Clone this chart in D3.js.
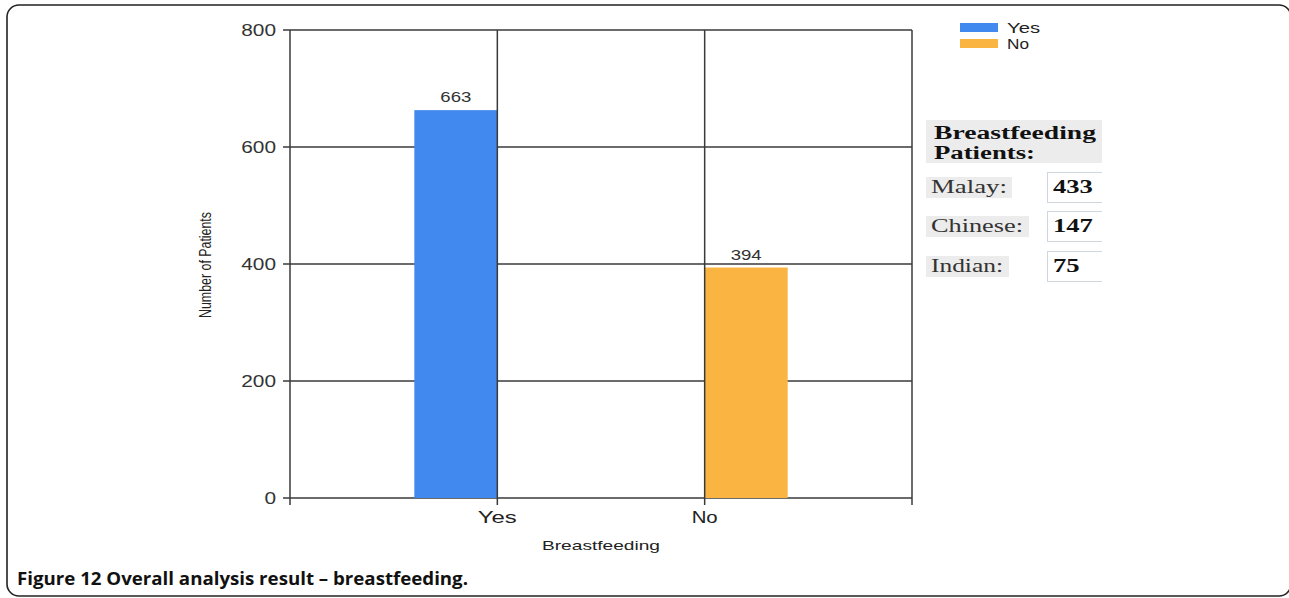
<!DOCTYPE html>
<html>
<head>
<meta charset="utf-8">
<script src="https://cdn.jsdelivr.net/npm/d3@7"></script>
<style>
  body { margin: 0; background: #fff; }
  svg text { font-family: "Liberation Sans", Arial, sans-serif; }
</style>
</head>
<body>
<svg id="fig" width="1289" height="598"></svg>
<script>
// data
var categories = ["Yes", "No"];
var patientCounts = [663, 394];
var seriesNames = ["Yes", "No"];
var seriesColors = ["#4189ee", "#f9b441"];
var yTicks = [0, 200, 400, 600, 800];
var races = ["Malay:", "Chinese:", "Indian:"];
var raceCounts = [433, 147, 75];

var svg = d3.select("#fig");

// outer rounded frame (right side runs just off the page)
svg.append("rect")
  .attr("x", 7).attr("y", 5)
  .attr("width", 1284).attr("height", 591)
  .attr("rx", 12)
  .attr("fill", "none").attr("stroke", "#222").attr("stroke-width", 1.6);

var plot = {left: 290, right: 912, top: 30, bottom: 498};

var x0 = d3.scalePoint().domain(categories).range([plot.left, plot.right]).padding(1);
var x1 = d3.scaleBand().domain(seriesNames).range([-83, 83]);
var y = d3.scaleLinear().domain([0, 800]).range([plot.bottom, plot.top]);

// stretched text helper (the original figure is wider than natural glyphs)
function label(g, txt, x, yy, len, size, anchor) {
  return g.append("text")
    .attr("x", x).attr("y", yy)
    .attr("text-anchor", anchor || "start")
    .attr("font-size", size)
    .attr("textLength", len)
    .attr("lengthAdjust", "spacingAndGlyphs")
    .text(txt);
}

var lineCol = "#3a3a3a";

// horizontal grid
svg.append("g").selectAll("line")
  .data(yTicks)
  .enter().append("line")
  .attr("x1", plot.left - 7).attr("x2", plot.right)
  .attr("y1", function(d) { return y(d); })
  .attr("y2", function(d) { return y(d); })
  .attr("stroke", lineCol).attr("stroke-width", 1.5);

// bars: each category only carries its own series
svg.append("g").selectAll("rect")
  .data(categories)
  .enter().append("rect")
  .attr("x", function(d, i) { return x0(d) + x1(seriesNames[i]); })
  .attr("y", function(d, i) { return y(patientCounts[i]); })
  .attr("width", x1.bandwidth())
  .attr("height", function(d, i) { return y(0) - y(patientCounts[i]); })
  .attr("fill", function(d, i) { return seriesColors[i]; });

// vertical lines: axis, category lines, right border
var vx = [plot.left].concat(categories.map(function(d) { return x0(d); })).concat([plot.right]);
svg.append("g").selectAll("line")
  .data(vx)
  .enter().append("line")
  .attr("x1", function(d) { return d; }).attr("x2", function(d) { return d; })
  .attr("y1", plot.top).attr("y2", plot.bottom + 7)
  .attr("stroke", lineCol).attr("stroke-width", 1.5);

// y tick labels
var yl = svg.append("g").attr("fill", "#333");
yTicks.forEach(function(t) {
  var s = String(t);
  label(yl, s, 276, y(t) + 6, s.length * 11.6, 16, "end");
});

// x tick labels
var xl = svg.append("g").attr("fill", "#222");
categories.forEach(function(c) {
  label(xl, c, x0(c), 523, c.length * 13, 16, "middle");
});

// value labels
var vl = svg.append("g").attr("fill", "#333");
categories.forEach(function(c, i) {
  label(vl, String(patientCounts[i]), x0(c) + x1(seriesNames[i]) + x1.bandwidth() / 2,
        y(patientCounts[i]) - 8, 31, 14, "middle");
});

// axis titles
label(svg.append("g").attr("fill", "#222"), "Breastfeeding", 601, 550, 118, 13, "middle");
svg.append("text")
  .attr("transform", "translate(211,265) rotate(-90) scale(1,1.3)")
  .attr("text-anchor", "middle")
  .attr("font-size", 12)
  .attr("fill", "#222")
  .attr("font-family", "'Liberation Sans Narrow', 'Liberation Sans', Arial, sans-serif")
  .attr("textLength", 106)
  .attr("lengthAdjust", "spacingAndGlyphs")
  .text("Number of Patients");

// legend
var leg = svg.append("g");
seriesNames.forEach(function(s, i) {
  leg.append("rect")
    .attr("x", 960).attr("y", 23 + i * 16)
    .attr("width", 38).attr("height", 9)
    .attr("fill", seriesColors[i]);
  label(leg.append("g").attr("fill", "#222"), s, 1007, 33 + i * 16, s.length * 11, 14);
});

// side panel: breastfeeding patients by race (cut off at the right like the source)
svg.append("clipPath").attr("id", "panelClip")
  .append("rect").attr("x", 900).attr("y", 100).attr("width", 202).attr("height", 200);

var panel = svg.append("g")
  .attr("clip-path", "url(#panelClip)")
  .style("font-family", "'Liberation Serif', 'Times New Roman', serif");
panel.append("rect")
  .attr("x", 926).attr("y", 120).attr("width", 177).attr("height", 43)
  .attr("fill", "#ececec");
var pt = panel.append("g").attr("font-weight", "bold").attr("fill", "#111");
label(pt, "Breastfeeding", 934, 139, 162, 18).style("font-family", "'Liberation Serif', serif");
label(pt, "Patients:", 934, 159, 101, 18).style("font-family", "'Liberation Serif', serif");

var rowTop = [177, 216, 256];
var rowBg = [86, 103, 83];
var rowLen = [76, 92, 72];
races.forEach(function(r, i) {
  var t = rowTop[i];
  panel.append("rect")
    .attr("x", 926).attr("y", t).attr("width", rowBg[i]).attr("height", 21)
    .attr("fill", "#ececec");
  label(panel.append("g").attr("fill", "#333"), r, 931, t + 16, rowLen[i], 18)
    .style("font-family", "'Liberation Serif', serif");
  panel.append("rect")
    .attr("x", 1047.5).attr("y", t - 4.5).attr("width", 60).attr("height", 30)
    .attr("fill", "#fff").attr("stroke", "#cfd6de").attr("stroke-width", 1);
  var v = String(raceCounts[i]);
  label(panel.append("g").attr("fill", "#111").attr("font-weight", "bold"), v, 1053, t + 16,
        v.length * 13.3, 18).style("font-family", "'Liberation Serif', serif");
});

// caption
var cap = svg.append("text")
  .attr("x", 17).attr("y", 585)
  .attr("font-size", 17)
  .attr("font-weight", "bold")
  .attr("fill", "#111")
  .style("font-family", "'Open Sans', 'Noto Sans', sans-serif")
  .attr("textLength", 451)
  .attr("lengthAdjust", "spacingAndGlyphs");
cap.append("tspan").text("Figure 12");
cap.append("tspan").text(" Overall analysis result \u2013 breastfeeding.");
</script>
</body>
</html>
